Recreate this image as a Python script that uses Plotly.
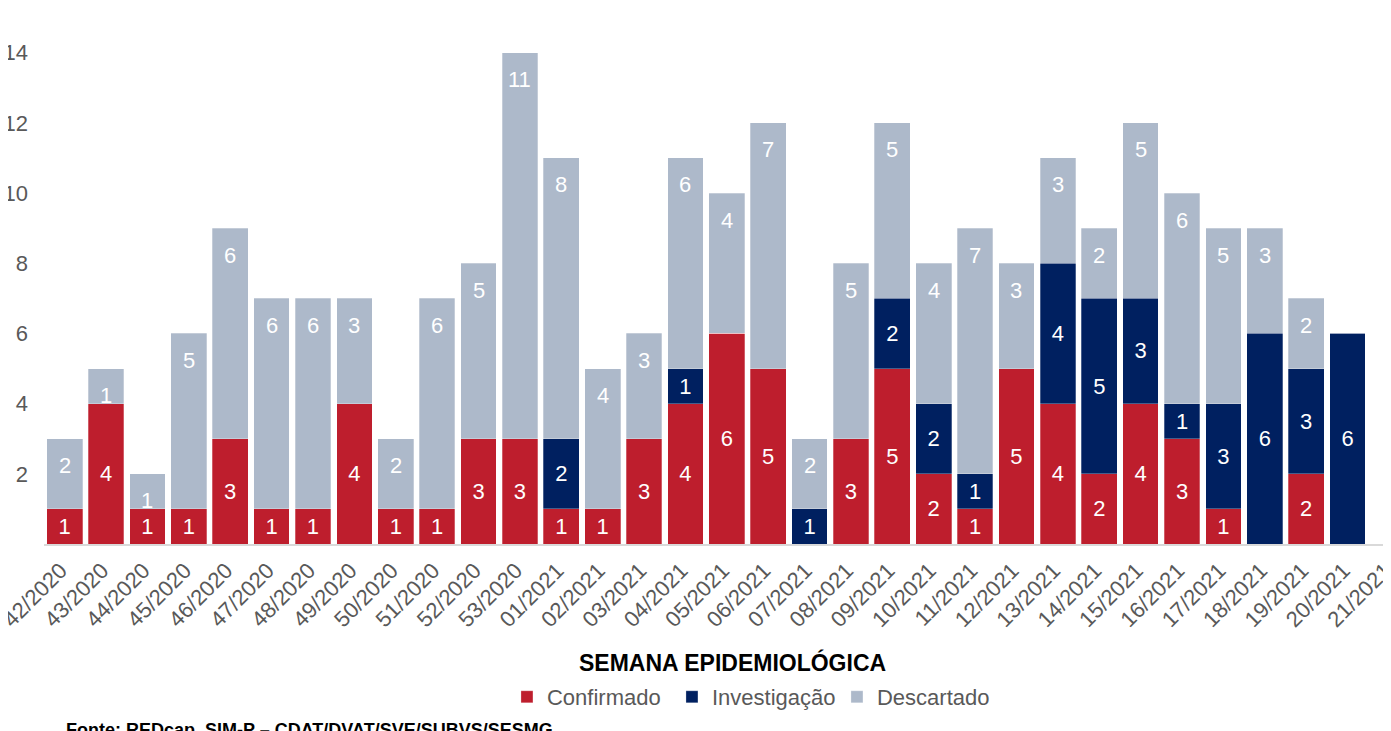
import plotly.graph_objects as go

semanas = ["42/2020", "43/2020", "44/2020", "45/2020", "46/2020", "47/2020", "48/2020",
           "49/2020", "50/2020", "51/2020", "52/2020", "53/2020", "01/2021", "02/2021",
           "03/2021", "04/2021", "05/2021", "06/2021", "07/2021", "08/2021", "09/2021",
           "10/2021", "11/2021", "12/2021", "13/2021", "14/2021", "15/2021", "16/2021",
           "17/2021", "18/2021", "19/2021", "20/2021", "21/2021"]
confirmado = [1, 4, 1, 1, 3, 1, 1, 4, 1, 1, 3, 3, 1, 1, 3, 4, 6, 5, 0, 3, 5, 2, 1, 5, 4, 2,
              4, 3, 1, 0, 2, 0, 0]
investigacao = [0, 0, 0, 0, 0, 0, 0, 0, 0, 0, 0, 0, 2, 0, 0, 1, 0, 0, 1, 0, 2, 2, 1, 0, 4,
                5, 3, 1, 3, 6, 3, 6, 0]
descartado = [2, 1, 1, 5, 6, 6, 6, 3, 2, 6, 5, 11, 8, 4, 3, 6, 4, 7, 2, 5, 5, 4, 7, 3, 3, 2,
              5, 6, 5, 3, 2, 0, 0]
y_ticks = [2, 4, 6, 8, 10, 12, 14]

C_RED = "#BE1E2D"
C_NAVY = "#002060"
C_GRAY = "#ADB9CA"
FONT = "Liberation Sans, Arial, sans-serif"


def labels(vals):
    return [str(v) if v else "" for v in vals]


fig = go.Figure()
for name, vals, color, txt in [
    ("Confirmado", confirmado, C_RED, True),
    ("Investigação", investigacao, C_NAVY, True),
    ("Descartado", descartado, C_GRAY, False),
]:
    fig.add_trace(go.Bar(
        name=name, x=semanas, y=vals,
        marker=dict(color=color, line=dict(color="rgba(255,255,255,0.35)", width=0.8)),
        text=labels(vals) if txt else None,
        textposition="inside" if txt else "none",
        insidetextanchor="middle",
        textangle=0,
        constraintext="none",
        textfont=dict(family=FONT, size=22, color="white"),
        hoverinfo="x+y+name",
    ))

# Descartado labels near the top of each segment
for s, c, i, d in zip(semanas, confirmado, investigacao, descartado):
    if d:
        fig.add_annotation(x=s, y=c + i + d, xref="x", yref="y", text=str(d),
                           showarrow=False, yanchor="middle", yshift=-27,
                           font=dict(family=FONT, size=22, color="white"))

fig.add_annotation(text="<b>SEMANA EPIDEMIOLÓGICA</b>", xref="paper", yref="paper",
                   x=0.5115, y=-0.2305, xanchor="center", yanchor="middle",
                   showarrow=False, font=dict(family=FONT, size=23, color="black"))
fig.add_annotation(text="<b>Fonte: REDcap, SIM-P – CDAT/DVAT/SVE/SUBVS/SESMG</b>",
                   xref="paper", yref="paper", x=(64 - 44) / 1347, y=-0.34,
                   xanchor="left", yanchor="top", showarrow=False,
                   font=dict(family=FONT, size=18, color="black"))

fig.update_layout(
    width=1391, height=731,
    barmode="stack", bargap=0.137,
    plot_bgcolor="white", paper_bgcolor="white",
    margin=dict(l=36, r=8, t=24, b=195, autoexpand=False),
    font=dict(family=FONT, size=22, color="#595959"),
    showlegend=True,
    legend=dict(orientation="h", x=0.3437, xanchor="left", y=-0.2988, yanchor="middle",
                traceorder="normal", font=dict(family=FONT, size=22, color="#595959"),
                entrywidth=120, entrywidthmode="pixels", bgcolor="rgba(0,0,0,0)"),
    xaxis=dict(range=[-0.5, 32.05], tickangle=-45, showgrid=False, showline=True,
               linecolor="#D9D9D9", linewidth=2, ticks="", zeroline=False,
               automargin=False, ticklabelshift=-4, ticklabelstandoff=3,
               tickfont=dict(family=FONT, size=22, color="#595959")),
    yaxis=dict(range=[0, 14.59], tickvals=y_ticks, showgrid=False, showline=False,
               zeroline=False, ticks="", ticklabelstandoff=15, automargin=False,
               tickfont=dict(family=FONT, size=22, color="#595959")),
)

fig.write_html("out.html")
